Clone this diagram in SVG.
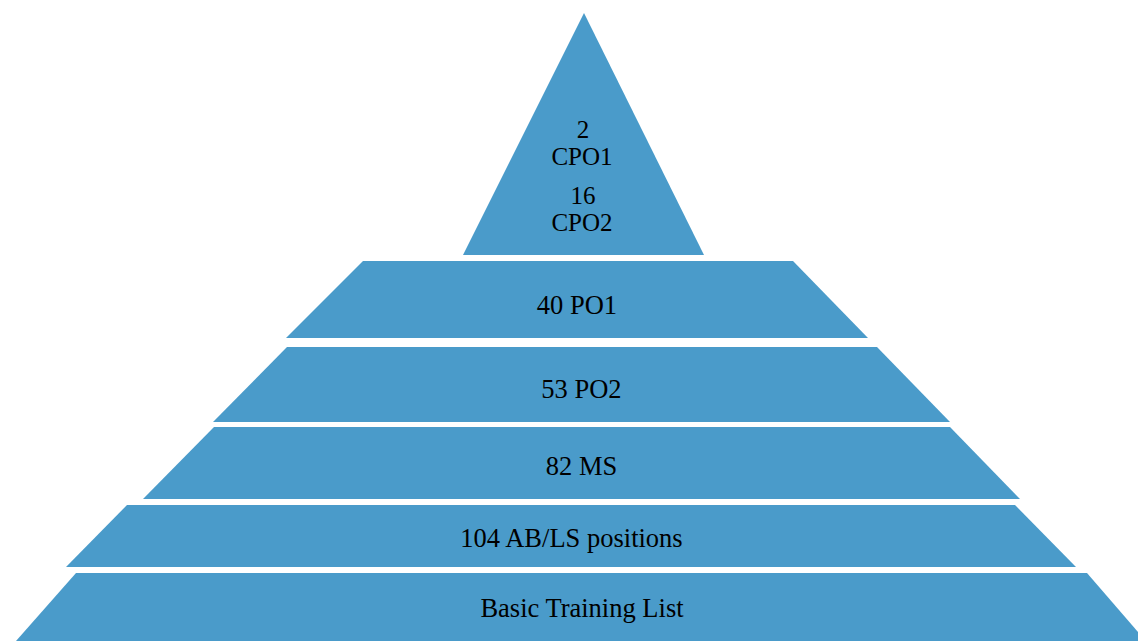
<svg xmlns="http://www.w3.org/2000/svg" width="1138" height="641" viewBox="0 0 1138 641">
<style>
.lvl{fill:#4A9BCA;}
text{font-family:'Liberation Serif','Times New Roman',serif;font-size:26.5px;fill:#000;text-anchor:middle;}
.top{font-size:25px;}
</style>
<rect width="1138" height="641" fill="#fff"/>
<g id="level1">
<polygon class="lvl" points="584,13 704,255 463,255"/>
<text class="top" x="583" y="138">2</text>
<text class="top" x="582" y="165">CPO1</text>
<text class="top" x="583" y="204">16</text>
<text class="top" x="582" y="231">CPO2</text>
</g>
<g id="level2">
<polygon class="lvl" points="363,261 793,261 868,338 286,338"/>
<text x="577" y="314">40 PO1</text>
</g>
<g id="level3">
<polygon class="lvl" points="287,347 877,347 950,422 213,422"/>
<text x="581.5" y="398">53 PO2</text>
</g>
<g id="level4">
<polygon class="lvl" points="214,427 950,427 1020,499 143,499"/>
<text x="581.5" y="475">82 MS</text>
</g>
<g id="level5">
<polygon class="lvl" points="127,505 1015,505 1076,567 66,567"/>
<text x="571.5" y="547">104 AB/LS positions</text>
</g>
<g id="level6">
<polygon class="lvl" points="76,573 1087,573 1138,632 1138,641 16,641"/>
<text x="582" y="617">Basic Training List</text>
</g>
</svg>
